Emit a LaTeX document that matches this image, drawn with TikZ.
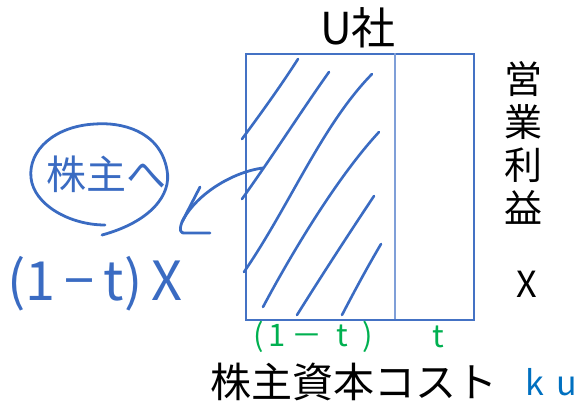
\documentclass[tikz,border=0pt]{standalone}
\usepackage{fontspec}
\newfontfamily\jp{Noto Sans CJK JP}
\definecolor{boxblue}{HTML}{4472C4}
\definecolor{divblue}{HTML}{7F9FD8}
\definecolor{ink}{HTML}{3A6BC2}
\definecolor{grn}{HTML}{00B050}
\definecolor{kublue}{HTML}{0070C0}
\tikzset{
  hatch/.style={ink, line width=2.6pt, line cap=round},
  pen/.style={ink, line width=2.8pt, line cap=round, line join=round},
  lbl/.style={inner sep=0pt, font=\jp},
}
\begin{document}
\begin{tikzpicture}[x=1pt,y=-1pt]
\useasboundingbox (0,0) rectangle (577,405);
% main box
\node[draw=boxblue, line width=2pt, minimum width=228pt, minimum height=266pt, anchor=north west, inner sep=0pt] (box) at (245,53) {};
\coordinate (d1) at (395,53);
\coordinate (d2) at (395,319);
\draw[divblue, line width=1.4pt] (d1) -- (d2);
% hatch lines
\draw[hatch] (242,139) .. controls (262,112) and (282,84) .. (298,59);
\draw[hatch] (242,199) .. controls (272,157) and (302,110) .. (329,72);
\draw[hatch] (244,272) .. controls (290,205) and (322,125) .. (372,74);
\draw[hatch] (263,307) .. controls (280,275) and (330,185) .. (379,132);
\draw[hatch] (297,315) .. controls (322,275) and (350,232) .. (374,196);
\draw[hatch] (342,315) .. controls (355,290) and (368,266) .. (381,244);
% labels
\node[lbl, font=\jp\fontsize{44}{48}\selectfont] (usha) at (358,28) {U社};
\node[lbl, font=\jp\fontsize{38}{43}\selectfont, align=center] (eigyo) at (523,143) {営\\業\\利\\益};
\node[lbl, font=\jp\fontsize{36}{40}\selectfont] (xr) at (527,284) {X};
\node[lbl, font=\jp\fontsize{31}{34}\selectfont, text=grn] (omt) at (313,337) {(\hspace{5pt}1\hspace{6pt}－\hspace{14pt}t\hspace{14pt})};
\node[lbl, font=\jp\fontsize{31}{34}\selectfont, text=grn] (tt) at (438,337) {t};
\node[lbl, font=\jp\fontsize{41}{44}\selectfont] (cost) at (354,382) {株主資本コスト};
\node[lbl, font=\jp\fontsize{34}{36}\selectfont, text=kublue] (ku) at (551,382) {k\hspace{12pt}u};
% handwritten left part
\draw[pen] (102,235) .. controls (150,222) and (172,195) .. (167,170)
  .. controls (160,130) and (120,122) .. (95,124)
  .. controls (55,126) and (28,150) .. (31,178)
  .. controls (34,205) and (70,225) .. (105,225);
\node[lbl, font=\jp\fontsize{40}{44}\selectfont, text=ink] (kabu) at (106,174) {株主へ};
\node[lbl, font=\jp\fontsize{54}{58}\selectfont, text=ink] (formula) at (95,284) {(1\,−\,t)\,X};
% arrow
\coordinate (a0) at (263,168);
\coordinate (a1) at (182,222);
\coordinate (h1) at (200,187);
\coordinate (h2) at (210,233);
\draw[pen] (a0) .. controls (232,172) and (195,195) .. (a1);
\draw[pen] (h1) -- (a1) .. controls (179,230) and (180,234) .. (186,233) -- (h2);
\end{tikzpicture}
\end{document}
